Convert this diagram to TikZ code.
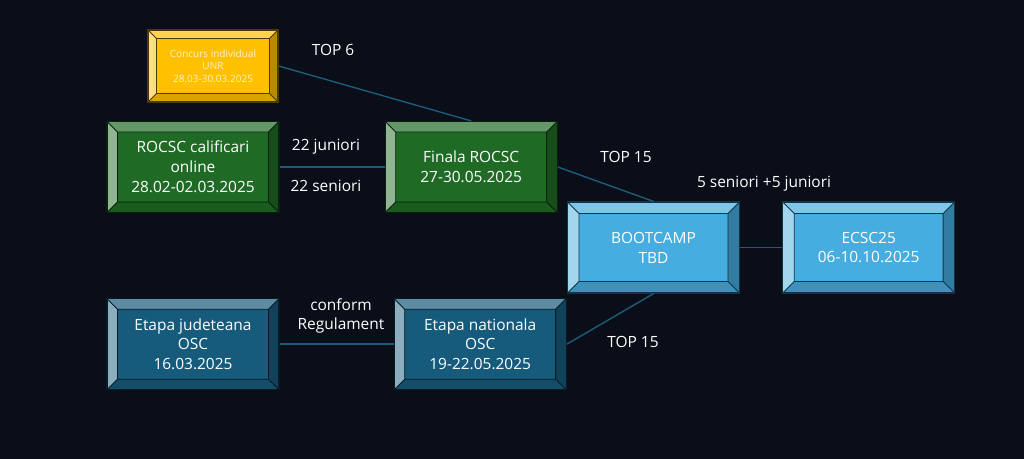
\documentclass[tikz,border=0pt]{standalone}
\usepackage{fontspec}
\setmainfont{Open Sans}
\usetikzlibrary{positioning}
\definecolor{Night}{HTML}{0A0E18}
\definecolor{Gold}{HTML}{FFC000}
\definecolor{Forest}{HTML}{1F6B25}
\definecolor{Sky}{HTML}{45ADDF}
\definecolor{Petrol}{HTML}{175B7C}
\definecolor{Wire}{HTML}{1D5B7B}
\definecolor{Cream}{HTML}{FFF2CC}

\begin{document}
\begin{tikzpicture}[
    x=0.02cm, y=-0.02cm,
    bevel/.style 2 args={
        draw=#1!30!black, line width=0.7pt, fill=#1,
        minimum width=3.44cm, minimum height=1.82cm,
        align=center, text=white, font=\fontsize{8.8}{11.3}\selectfont,
        path picture={
            \path (path picture bounding box.north west) coordinate (o1)
                  (path picture bounding box.north east) coordinate (o2)
                  (path picture bounding box.south east) coordinate (o3)
                  (path picture bounding box.south west) coordinate (o4);
            \path ([shift={(#2,-#2)}]o1) coordinate (i1)
                  ([shift={(-#2,-#2)}]o2) coordinate (i2)
                  ([shift={(-#2,#2)}]o3) coordinate (i3)
                  ([shift={(#2,#2)}]o4) coordinate (i4);
            \fill[#1!70!white] (o1) -- (o2) -- (i2) -- (i1) -- cycle;
            \fill[#1!50!white] (o1) -- (i1) -- (i4) -- (o4) -- cycle;
            \fill[#1!72!black] (o2) -- (o3) -- (i3) -- (i2) -- cycle;
            \fill[#1!85!black] (o4) -- (i4) -- (i3) -- (o3) -- cycle;
            \draw[#1!30!black, line width=0.5pt] (i1) rectangle (i3)
                (o1) -- (i1) (o2) -- (i2) (o3) -- (i3) (o4) -- (i4);
        }
    },
    small/.style={minimum width=2.6cm, minimum height=1.44cm,
        text=Cream, font=\fontsize{5.7}{7.1}\selectfont},
    wire/.style={draw=Wire, line width=0.8pt},
    lbl/.style={text=white, align=center, font=\fontsize{8.8}{11.3}\selectfont}
]

% background
\fill[Night] (0,0) rectangle (1024,459);

% =============================================
% TOP: ROCSC qualifiers -> final
% =============================================
\node[bevel={Gold}{0.17cm}, small] (concurs) at (213,66)
    {Concurs individual\\UNR\\28.03-30.03.2025};
\node[bevel={Forest}{0.21cm}] (calif) at (193,167)
    {ROCSC calificari\\online\\28.02-02.03.2025};
\node[bevel={Forest}{0.21cm}, right=2.1cm of calif] (finala)
    {Finala ROCSC\\27-30.05.2025};

% =============================================
% BOTTOM: OSC stages
% =============================================
\node[bevel={Petrol}{0.21cm}, below=1.7cm of calif] (jud)
    {Etapa judeteana\\OSC\\16.03.2025};
\node[bevel={Petrol}{0.21cm}, right=2.28cm of jud] (nat)
    {Etapa nationala\\OSC\\19-22.05.2025};

% =============================================
% RIGHT: bootcamp and ECSC
% =============================================
\node[bevel={Sky}{0.23cm}] (boot) at (653.5,247.5) {BOOTCAMP\\TBD};
\node[bevel={Sky}{0.23cm}, right=0.84cm of boot] (ecsc)
    {ECSC25\\06-10.10.2025};

% connectors
\draw[wire] (concurs.east) -- (finala.north);
\draw[wire] (calif) -- (finala);
\draw[wire] (finala.east) -- (boot.north);
\draw[wire] (boot) -- (ecsc);
\draw[wire] (jud) -- (nat);
\draw[wire] (nat.east) -- (boot.south);

% labels
\node[lbl] (top6) at (333,50) {TOP 6};
\node[lbl] (jun) at (326,147) {22 juniori};
\node[lbl] (sen) at (326,186) {22 seniori};
\node[lbl] (top15a) at (626,157) {TOP 15};
\node[lbl] (team) at (764,184) {5 seniori +5 juniori};
\node[lbl] (regul) at (341,316) {conform\\Regulament};
\node[lbl] (top15b) at (633,342) {TOP 15};

\end{tikzpicture}
\end{document}
